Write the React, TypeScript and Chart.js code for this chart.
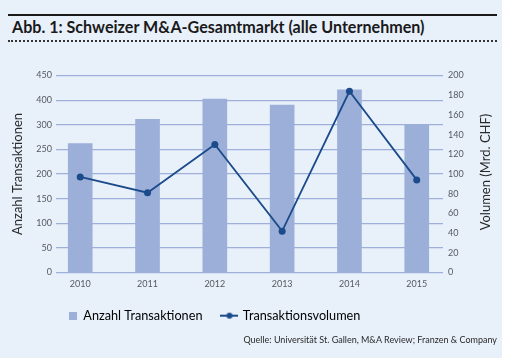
import React, { useEffect, useRef } from 'react';
import { Chart, registerables } from 'chart.js';

Chart.register(...registerables);

const titleText = 'Abb. 1: Schweizer M&A-Gesamtmarkt (alle Unternehmen)';
const sourceText = 'Quelle: Universität St. Gallen, M&A Review; Franzen & Company';
const leftAxisTitle = 'Anzahl Transaktionen';
const rightAxisTitle = 'Volumen (Mrd. CHF)';

const categories = ['2010', '2011', '2012', '2013', '2014', '2015'];
const transactionCounts = [262, 311, 352, 340, 371, 300];
const transactionVolumes = [97, 81, 130, 42, 184, 94];
const leftTickLabels = ['0', '50', '100', '150', '200', '250', '300', '400', '450'];
const seriesNames = ['Anzahl Transaktionen', 'Transaktionsvolumen'];

const BG = '#e8f0fa';
const BAR = '#9bafd9';
const GRID = '#9eafd9';
const LINE = '#1b4b8a';
const TICK = '#555a60';
const TEXT = '#2a2a2a';
const FONT = 'Lato';

export default function App() {
  const ref = useRef<HTMLCanvasElement | null>(null);

  useEffect(() => {
    if (!ref.current) return;

    const sq = document.createElement('canvas');
    sq.width = 14; sq.height = 8;
    const c1 = sq.getContext('2d')!;
    c1.fillStyle = BAR;
    c1.fillRect(6, 0, 8, 8);

    const ln = document.createElement('canvas');
    ln.width = 18; ln.height = 8;
    const c2 = ln.getContext('2d')!;
    c2.strokeStyle = LINE; c2.fillStyle = LINE; c2.lineWidth = 2;
    c2.beginPath(); c2.moveTo(0, 4); c2.lineTo(18, 4); c2.stroke();
    c2.beginPath(); c2.arc(9, 4, 3, 0, Math.PI * 2); c2.fill();

    const rightTitle = {
      id: 'rightTitle',
      afterDraw(chart: any) {
        const ctx = chart.ctx;
        const s = chart.scales.y1;
        const ca = chart.chartArea;
        ctx.save();
        ctx.translate(s.right - 16, (ca.top + ca.bottom) / 2 - 2);
        ctx.rotate(-Math.PI / 2);
        ctx.font = `13px ${FONT}`;
        ctx.fillStyle = TEXT;
        ctx.textAlign = 'center';
        ctx.textBaseline = 'middle';
        ctx.fillText(rightAxisTitle, 0, 0);
        ctx.restore();
      },
    };

    const legendShift = {
      id: 'legendShift',
      afterLayout(chart: any) {
        const l = chart.legend;
        if (!l) return;
        const dx = 43 - l.left;
        l.left += dx;
        l.right += dx;
      },
    };

    const tickFont = { family: FONT, size: 9 };

    const chart = new Chart(ref.current, {
      type: 'bar',
      data: {
        datasets: [
          {
            type: 'bar',
            label: seriesNames[0],
            data: categories.map((_, i) => ({ x: i, y: transactionCounts[i] })),
            backgroundColor: BAR,
            barThickness: 24,
            xAxisID: 'x',
            yAxisID: 'y',
            order: 2,
          } as any,
          {
            type: 'line',
            label: seriesNames[1],
            data: categories.map((_, i) => ({ x: i, y: transactionVolumes[i] })),
            borderColor: LINE,
            backgroundColor: LINE,
            borderWidth: 1.8,
            pointRadius: 3.5,
            pointBackgroundColor: LINE,
            pointBorderWidth: 0,
            tension: 0,
            xAxisID: 'x',
            yAxisID: 'y1',
            order: 1,
          } as any,
        ],
      },
      options: {
        animation: false,
        responsive: false,
        maintainAspectRatio: false,
        layout: { padding: { top: 25.5, bottom: 3, left: 0, right: 0 } },
        scales: {
          x: {
            type: 'linear',
            min: -0.36,
            max: 5.39,
            offset: false,
            grid: { display: false, drawTicks: false },
            border: { display: false },
            afterBuildTicks: (s: any) => {
              s.ticks = categories.map((_, i) => ({ value: i }));
            },
            afterFit: (s: any) => { s.height = 16.8; },
            ticks: {
              callback: (v: any) => categories[v] ?? '',
              font: tickFont,
              color: TICK,
              padding: 6.5,
              maxRotation: 0,
              autoSkip: false,
            },
          },
          y: {
            position: 'left',
            min: 0,
            max: 400,
            ticks: {
              stepSize: 50,
              callback: (_v: any, i: number) => leftTickLabels[i] ?? '',
              font: tickFont,
              color: TICK,
              padding: 4,
            },
            grid: { color: GRID, lineWidth: 1.2, drawTicks: false },
            border: { display: false },
            title: {
              display: true,
              text: leftAxisTitle,
              font: { family: FONT, size: 13 },
              color: TEXT,
              padding: { top: 10, bottom: 0 },
            },
            afterFit: (s: any) => { s.width = 56; },
          },
          y1: {
            position: 'right',
            min: 0,
            max: 200,
            ticks: { stepSize: 20, font: tickFont, color: TICK, padding: 5 },
            grid: { display: false, drawTicks: false },
            border: { display: false },
            afterFit: (s: any) => { s.width = 59; },
          },
        },
        plugins: {
          tooltip: { enabled: false },
          legend: {
            position: 'bottom',
            align: 'start',
            labels: {
              usePointStyle: true,
              pointStyleWidth: 14,
              boxHeight: 8,
              padding: 20,
              color: TEXT,
              font: { family: FONT, size: 12.7 },
              generateLabels: () => [
                { text: seriesNames[0], pointStyle: sq, fillStyle: BAR, strokeStyle: BAR, lineWidth: 0, datasetIndex: 0, hidden: false },
                { text: seriesNames[1], pointStyle: ln, fillStyle: LINE, strokeStyle: LINE, lineWidth: 0, datasetIndex: 1, hidden: false },
              ] as any,
            },
          },
        },
      } as any,
      plugins: [rightTitle, legendShift],
    });

    return () => chart.destroy();
  }, []);

  return (
    <div style={{ position: 'absolute', left: 0, top: 0, width: 505, height: 364, background: '#ffffff', overflow: 'hidden' }}>
      <div style={{ position: 'absolute', left: 0, top: 0, width: 502, height: 358, background: BG }} />
      <div style={{ position: 'absolute', left: 8, top: 14, width: 489, height: 2, background: '#1a1a1a' }} />
      <div style={{ position: 'absolute', left: 12, top: 19, fontFamily: FONT, fontWeight: 700, fontSize: 16.1, lineHeight: '16px', color: '#1a1a1a', whiteSpace: 'nowrap' }}>{titleText}</div>
      <div style={{ position: 'absolute', left: 8, top: 40, width: 489, height: 0, borderTop: '2px dotted #333' }} />
      <canvas ref={ref} width={502} height={285} style={{ position: 'absolute', left: 0, top: 50, width: 502, height: 285 }} />
      <div style={{ position: 'absolute', right: 8, top: 335, fontFamily: FONT, fontSize: 9, lineHeight: '10px', color: TEXT, whiteSpace: 'nowrap' }}>{sourceText}</div>
    </div>
  );
}
